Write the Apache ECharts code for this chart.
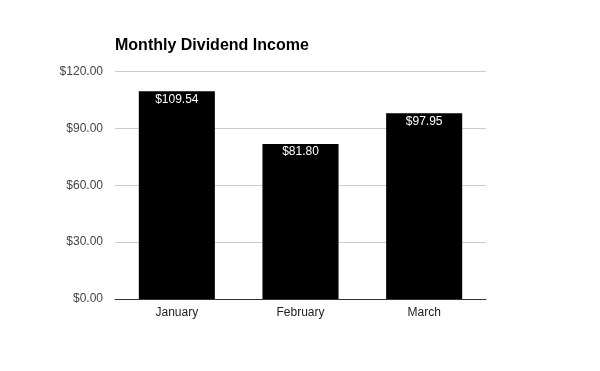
<!DOCTYPE html>
<html><head><meta charset="utf-8">
<script src="https://cdn.jsdelivr.net/npm/echarts@6/dist/echarts.min.js"></script>
<style>html,body{margin:0;padding:0;background:#fff}#c{width:600px;height:371px}</style>
</head><body><div id="c"></div>
<script>
const categories = ["January", "February", "March"];
const dividends = [109.54, 81.80, 97.95];
const yTicks = [0, 30, 60, 90, 120];

const chart = echarts.init(document.getElementById('c'), null, {renderer: 'canvas'});
chart.setOption({
  animation: false,
  backgroundColor: '#fff',
  title: {
    text: 'Monthly Dividend Income',
    left: 110, top: 33,
    textStyle: {fontFamily: 'Liberation Sans, Arial', fontSize: 16, fontWeight: 'bold', color: '#000'}
  },
  grid: {left: 115, right: 114, top: 71.5, bottom: 72, containLabel: false},
  xAxis: {
    type: 'category', data: categories,
    axisTick: {show: false},
    axisLine: {lineStyle: {color: '#333', width: 1}},
    axisLabel: {fontFamily: 'Liberation Sans, Arial', fontSize: 12, color: '#222', margin: 8}
  },
  yAxis: {
    type: 'value', min: yTicks[0], max: yTicks[yTicks.length - 1], interval: 30,
    axisLine: {show: false}, axisTick: {show: false},
    splitLine: {lineStyle: {color: '#ccc', width: 1}},
    axisLabel: {fontFamily: 'Liberation Sans, Arial', fontSize: 12, color: '#444', margin: 12,
      formatter: v => '$' + v.toFixed(2)}
  },
  series: [{
    type: 'bar', data: dividends, barWidth: '61.5%',
    itemStyle: {color: '#000'},
    label: {show: true, position: 'insideTop', distance: 2, color: '#fff',
      fontFamily: 'Liberation Sans, Arial', fontSize: 12,
      formatter: p => '$' + p.value.toFixed(2)}
  }]
});
</script></body></html>
